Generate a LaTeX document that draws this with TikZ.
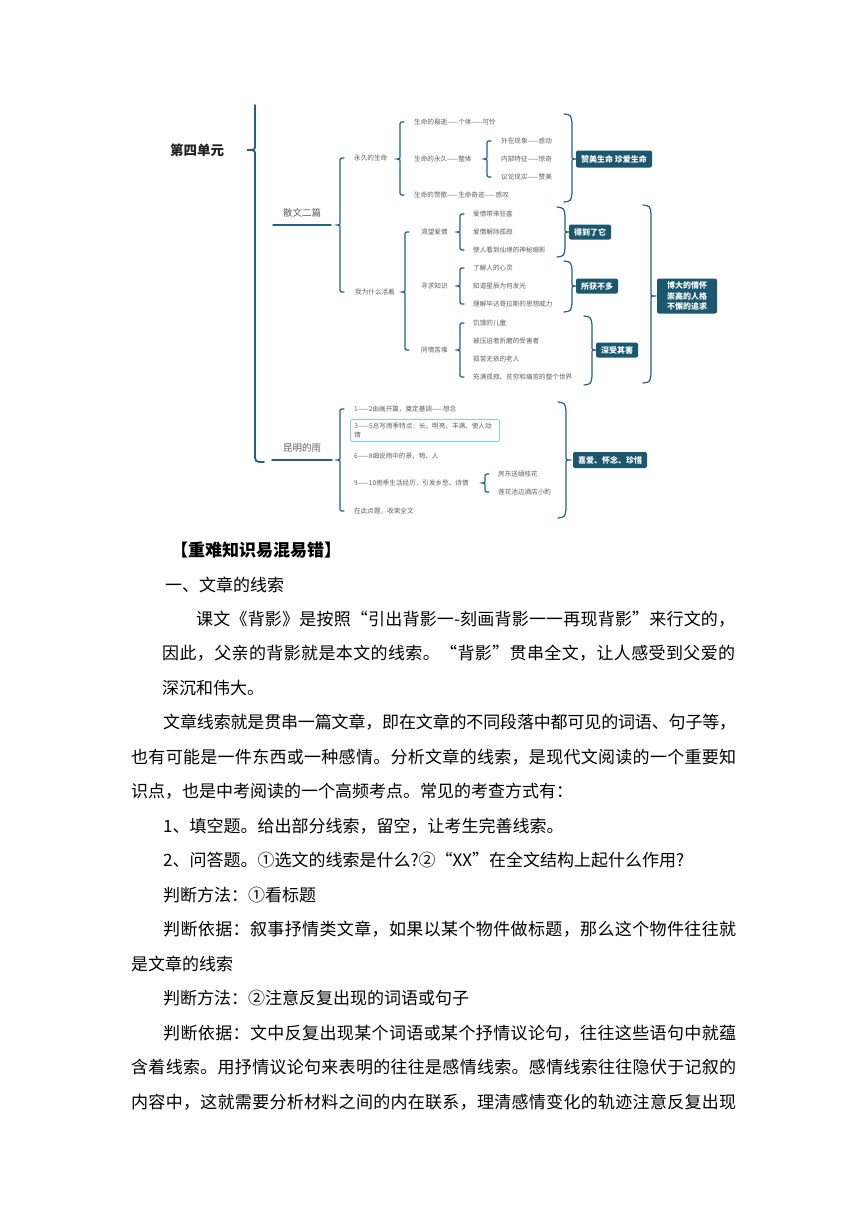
\documentclass[tikz,border=0pt]{standalone}
\usepackage{fontspec}
\setmainfont{Noto Sans CJK SC}
\definecolor{teal1}{RGB}{27,87,110}
\definecolor{brcol}{RGB}{38,98,122}
\definecolor{txt}{RGB}{95,95,95}
\definecolor{lblue}{RGB}{140,205,232}
\def\sprd#1{\ifx#1\sprdend\unskip\else#1\hskip0pt plus1fil minus1fil\relax\expandafter\sprd\fi}
\let\sprdend\relax
\newcommand\JL[2]{\hbox to #1{\sprd#2\sprdend}}
\newcommand\LBr[4]{\draw[brc] (#1+4,#2) .. controls (#1,#2) .. (#1,#2+4) -- (#1,#4-4) .. controls (#1,#4) .. (#1-3,#4) .. controls (#1,#4) .. (#1,#4+4) -- (#1,#3-4) .. controls (#1,#3) .. (#1+4,#3);}
\newcommand\RBr[4]{\draw[brc] (#1-8,#2) .. controls (#1-1,#2+1) .. (#1,#2+9) -- (#1,#4-4) .. controls (#1,#4) .. (#1+3,#4) -- (#1+5,#4) (#1+3,#4) .. controls (#1,#4) .. (#1,#4+4) -- (#1,#3-9) .. controls (#1-1,#3-1) .. (#1-8,#3);}
\begin{document}
\begin{tikzpicture}[x=1pt,y=-1pt,
 mm/.style={anchor=west, inner sep=0pt, text=txt, font=\fontsize{6.6}{9}\selectfont},
 bx/.style={fill=teal1, text=white, rounded corners=2pt, inner sep=0pt, font=\bfseries\fontsize{8}{10.5}\selectfont, align=center},
 body/.style={anchor=west, inner sep=0pt, font=\fontsize{17}{20}\selectfont},
 brc/.style={draw=brcol, line width=1.2pt, line cap=round},
]
\fill[white] (0,0) rectangle (860,1216);
\useasboundingbox (0,0) rectangle (860,1216);

% ---------- mind map ----------
\node[anchor=west, inner sep=0pt, text={rgb,255:red,34;green,34;blue,34}, font=\bfseries\fontsize{13.5}{16}\selectfont] (root) at (170,150) {第四单元};
\draw[brc, line width=1.8pt] (255,105) -- (255,145) .. controls (255,150) .. (247,150) .. controls (255,150) .. (255,155) -- (255,453) .. controls (255,462) .. (264,462);

\node[anchor=west, inner sep=0pt, text=txt, font=\fontsize{9.5}{11}\selectfont] (s1) at (283,213) {散文二篇};
\draw[brc, line width=1.5pt] (273,225) -- (331,225);
\node[anchor=west, inner sep=0pt, text=txt, font=\fontsize{9.5}{11}\selectfont] (s2) at (283,448) {昆明的雨};
\draw[brc, line width=1.5pt] (272,460) -- (332,460);

\LBr{340}{158}{292}{225}
\node[mm] (a1) at (354,158) {永久的生命};
\node[mm] (a2) at (355,292) {我为什么活着};

\LBr{400}{122}{195}{159}
\node[mm] (a11) at (414,122) {生命的易逝——个体——可怜};
\node[mm] (a12) at (414,159) {生命的永久——整体};
\node[mm] (a13) at (414,195) {生命的赞歌——生命奇迹——感叹};
\LBr{487}{141}{177}{159}
\node[mm] (a121) at (501,141) {外在现象——感动};
\node[mm] (a122) at (501,159) {内部特征——惊奇};
\node[mm] (a123) at (501,177) {议论现实——赞美};
\RBr{572}{114}{202}{159}
\node[bx, minimum width=76pt, minimum height=17pt] (bA) at (614,159) {赞美生命 珍爱生命};

\LBr{405}{232}{350}{292}
\node[mm] (a21) at (421,232) {渴望爱情};
\node[mm] (a22) at (421,286) {寻求知识};
\node[mm] (a23) at (421,350) {同情苦难};

\LBr{460}{214}{250}{232}
\node[mm] (a211) at (473,214) {爱情带来狂喜};
\node[mm] (a212) at (473,232) {爱情解除孤寂};
\node[mm] (a213) at (473,250) {使人看到仙境的神秘缩影};
\LBr{460}{268}{304}{286}
\node[mm] (a221) at (473,268) {了解人的心灵};
\node[mm] (a222) at (473,286) {知道星辰为何发光};
\node[mm] (a223) at (473,304) {理解毕达哥拉斯的思想威力};
\LBr{460}{323}{377}{350}
\node[mm] (a231) at (473,323) {饥饿的儿童};
\node[mm] (a232) at (473,341) {被压迫者折磨的受害者};
\node[mm] (a233) at (473,359) {孤苦无依的老人};
\node[mm] (a234) at (473,377) {充满孤寂、贫穷和痛苦的整个世界};

\RBr{565}{207}{257}{232}
\node[bx, minimum width=42pt, minimum height=15pt] (bB) at (590,232) {得到了它};
\RBr{572}{261}{312}{286}
\node[bx, minimum width=42pt, minimum height=15pt] (bC) at (597,286) {所获不多};
\RBr{592}{316}{385}{350}
\node[bx, minimum width=42pt, minimum height=15pt] (bD) at (617,350) {深受其害};
\RBr{651}{205}{383}{296}
\node[bx, minimum width=60pt, minimum height=35pt] (bE) at (687,296) {博大的情怀\\崇高的人格\\不懈的追求};

\LBr{340}{409}{511}{460}
\node[mm] (k1) at (354,409) {1——2由画开篇，奠定基调——想念};
\node[anchor=north west, draw=lblue, line width=0.9pt, rounded corners=2pt, inner xsep=4pt, inner ysep=3.5pt, text width=141pt, align=left, text=txt, font=\fontsize{6.6}{9}\selectfont] (k2) at (350,419) {3——5总写雨季特点：长、明亮、丰满、使人动\\情};
\node[mm] (k3) at (354,456) {6——8细说雨中的景、物、人};
\node[mm] (k4) at (354,483) {9——10雨季生活经历，引发乡愁、诗情};
\node[mm] (k5) at (354,511) {在此点题，收束全文};
\LBr{485}{474}{492}{483}
\node[mm] (k41) at (498,474) {房东送缅桂花};
\node[mm] (k42) at (498,492) {莲花池边酒店小酌};
\RBr{566}{402}{518}{460}
\node[bx, minimum width=74pt, minimum height=16pt] (bF) at (610,460) {喜爱、怀念、珍惜};

% ---------- body text ----------
\node[body, font=\bfseries\fontsize{17}{20}\selectfont] (t0) at (171,550) {【重难知识易混易错】};
\node[body] (t1) at (165,584.5) {一、文章的线索};
\node[body] (t2) at (196,619) {\JL{539pt}{课文《背影》是按照“引出背影一-刻画背影一一再现背影”来行文的，}};
\node[body] (t3) at (162,653.5) {\JL{573pt}{因此，父亲的背影就是本文的线索。“背影”贯串全文，让人感受到父爱的}};
\node[body] (t4) at (162,688) {深沉和伟大。};
\node[body] (t5) at (163,722.5) {\JL{573pt}{文章线索就是贯串一篇文章，即在文章的不同段落中都可见的词语、句子等，}};
\node[body] (t6) at (131,757) {\JL{605pt}{也有可能是一件东西或一种感情。分析文章的线索，是现代文阅读的一个重要知}};
\node[body] (t7) at (131,791.5) {识点，也是中考阅读的一个高频考点。常见的考查方式有：};
\node[body] (t8) at (163,826) {1、填空题。给出部分线索，留空，让考生完善线索。};
\node[body] (t9) at (163,860.5) {2、问答题。①选文的线索是什么?②“XX”在全文结构上起什么作用?};
\node[body] (t10) at (163,895) {判断方法：①看标题};
\node[body] (t11) at (163,929.5) {\JL{573pt}{判断依据：叙事抒情类文章，如果以某个物件做标题，那么这个物件往往就}};
\node[body] (t12) at (131,964) {是文章的线索};
\node[body] (t13) at (163,998.5) {判断方法：②注意反复出现的词语或句子};
\node[body] (t14) at (163,1033) {\JL{573pt}{判断依据：文中反复出现某个词语或某个抒情议论句，往往这些语句中就蕴}};
\node[body] (t15) at (131,1067.5) {\JL{605pt}{含着线索。用抒情议论句来表明的往往是感情线索。感情线索往往隐伏于记叙的}};
\node[body] (t16) at (131,1102) {\JL{605pt}{内容中，这就需要分析材料之间的内在联系，理清感情变化的轨迹注意反复出现}};
\end{tikzpicture}
\end{document}
